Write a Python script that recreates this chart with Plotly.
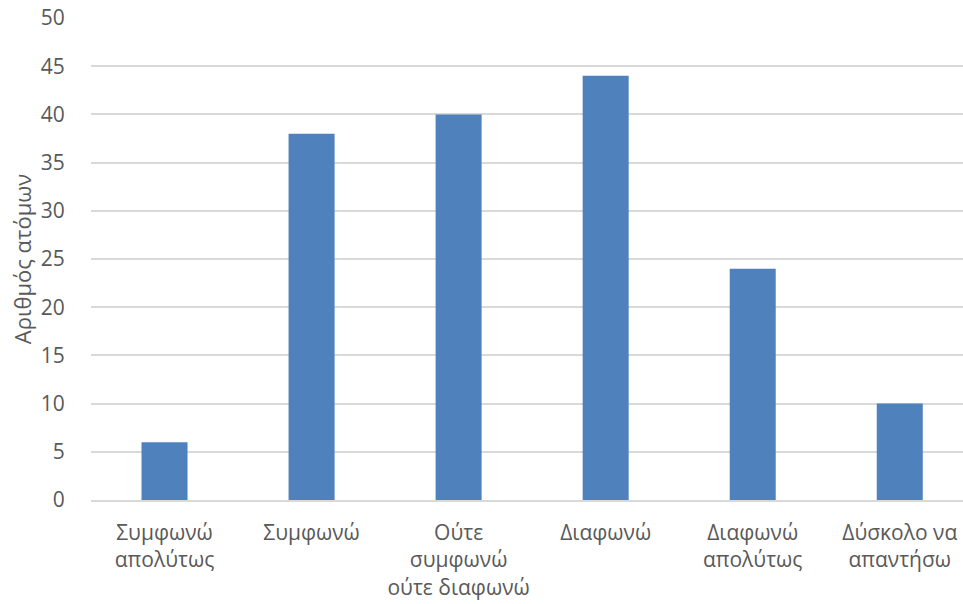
import plotly.graph_objects as go

categories = [
    "Συμφωνώ<br>απολύτως",
    "Συμφωνώ",
    "Ούτε<br>συμφωνώ<br>ούτε διαφωνώ",
    "Διαφωνώ",
    "Διαφωνώ<br>απολύτως",
    "Δύσκολο να<br>απαντήσω",
]
counts = [6, 38, 40, 44, 24, 10]
y_ticks = [0, 5, 10, 15, 20, 25, 30, 35, 40, 45, 50]

text_color = "#595959"
grid_color = "#D9D9D9"
font_family = "Open Sans, sans-serif"

fig = go.Figure(
    go.Bar(
        x=list(range(len(categories))),
        y=counts,
        marker=dict(color="#4F81BD", line=dict(width=0)),
        width=0.313,
    )
)

fig.update_layout(
    width=963,
    height=604,
    margin=dict(l=91, r=0, t=18, b=104),
    paper_bgcolor="white",
    plot_bgcolor="white",
    showlegend=False,
    font=dict(family=font_family, color=text_color, size=21),
)

fig.update_xaxes(
    tickmode="array",
    tickvals=list(range(len(categories))),
    ticktext=categories,
    range=[-0.5, 5.43],
    showgrid=False,
    showline=True,
    linecolor=grid_color,
    linewidth=1.5,
    ticks="outside",
    ticklen=13,
    tickcolor="rgba(0,0,0,0)",
    tickfont=dict(size=21, color=text_color),
    fixedrange=True,
)

fig.update_yaxes(
    range=[0, 50],
    tickmode="array",
    tickvals=y_ticks,
    showgrid=True,
    gridcolor=grid_color,
    gridwidth=1.5,
    zeroline=False,
    ticks="outside",
    ticklen=21,
    tickcolor="rgba(0,0,0,0)",
    tickfont=dict(size=21, color=text_color),
    title=dict(text="Αριθμός ατόμων", font=dict(size=22, color=text_color), standoff=3),
    fixedrange=True,
)

fig.write_html("out.html")
